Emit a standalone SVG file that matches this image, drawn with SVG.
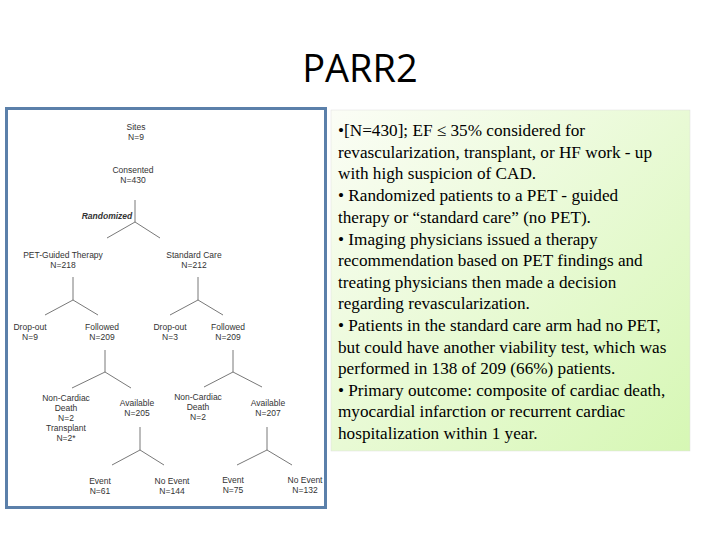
<svg xmlns="http://www.w3.org/2000/svg" width="720" height="540" viewBox="0 0 720 540">
<defs>
<linearGradient id="g" x1="0" y1="0" x2="1" y2="1"><stop offset="0" stop-color="#fbfdf6"/><stop offset="1" stop-color="#d6f7b4"/></linearGradient>
<style>
.t{font-family:"Liberation Sans",Arial,sans-serif;font-size:8.5px;fill:#333;text-anchor:middle}
.p{font-family:"Liberation Serif","Times New Roman",serif;font-size:17.2px;fill:#000}
line{stroke:#555;stroke-width:0.8}
</style>
</defs>
<rect width="720" height="540" fill="#fff"/>
<text x="360" y="82" font-family="'Open Sans','Liberation Sans',sans-serif" font-size="38" text-anchor="middle" fill="#000">PARR2</text>
<rect x="6.5" y="108.5" width="319" height="399" fill="#fff" stroke="#5b80aa" stroke-width="3"/>
<g id="connectors">
<line x1="135" y1="200" x2="135" y2="222"/><line x1="135" y1="222" x2="107" y2="238"/><line x1="135" y1="222" x2="160" y2="238"/>
<line x1="73" y1="277" x2="73" y2="300"/><line x1="73" y1="300" x2="45" y2="315"/><line x1="73" y1="300" x2="98" y2="315"/>
<line x1="198" y1="277" x2="198" y2="300"/><line x1="198" y1="300" x2="170" y2="315"/><line x1="198" y1="300" x2="223" y2="315"/>
<line x1="105" y1="350" x2="105" y2="372"/><line x1="105" y1="372" x2="72" y2="388"/><line x1="105" y1="372" x2="131" y2="388"/>
<line x1="233" y1="350" x2="233" y2="372"/><line x1="233" y1="372" x2="204" y2="387"/><line x1="233" y1="372" x2="262" y2="387"/>
<line x1="140" y1="427" x2="140" y2="450"/><line x1="140" y1="450" x2="112" y2="465"/><line x1="140" y1="450" x2="164" y2="465"/>
<line x1="267" y1="427" x2="267" y2="450"/><line x1="267" y1="450" x2="237" y2="465"/><line x1="267" y1="450" x2="292" y2="465"/>
</g>
<g id="sites"><text class="t" x="136" y="130">Sites</text><text class="t" x="136" y="140">N=9</text></g>
<g id="consented"><text class="t" x="133" y="173">Consented</text><text class="t" x="133" y="183">N=430</text></g>
<text class="t" x="107" y="219" font-style="italic" font-weight="bold" font-size="7">Randomized</text>
<g id="pet"><text class="t" x="63" y="258">PET-Guided Therapy</text><text class="t" x="63" y="268">N=218</text></g>
<g id="std"><text class="t" x="194" y="258">Standard Care</text><text class="t" x="194" y="268">N=212</text></g>
<g id="drop1"><text class="t" x="30" y="330">Drop-out</text><text class="t" x="30" y="340">N=9</text></g>
<g id="fol1"><text class="t" x="102" y="330">Followed</text><text class="t" x="102" y="340">N=209</text></g>
<g id="drop2"><text class="t" x="170" y="330">Drop-out</text><text class="t" x="170" y="340">N=3</text></g>
<g id="fol2"><text class="t" x="228" y="330">Followed</text><text class="t" x="228" y="340">N=209</text></g>
<g id="ncd1"><text class="t" x="66" y="401">Non-Cardiac</text><text class="t" x="66" y="411">Death</text><text class="t" x="66" y="421">N=2</text><text class="t" x="66" y="431">Transplant</text><text class="t" x="66" y="441">N=2*</text></g>
<g id="av1"><text class="t" x="137" y="406">Available</text><text class="t" x="137" y="416">N=205</text></g>
<g id="ncd2"><text class="t" x="198" y="400">Non-Cardiac</text><text class="t" x="198" y="410">Death</text><text class="t" x="198" y="420">N=2</text></g>
<g id="av2"><text class="t" x="268" y="406">Available</text><text class="t" x="268" y="416">N=207</text></g>
<g id="ev1"><text class="t" x="100" y="484">Event</text><text class="t" x="100" y="494">N=61</text></g>
<g id="ne1"><text class="t" x="172" y="484">No Event</text><text class="t" x="172" y="494">N=144</text></g>
<g id="ev2"><text class="t" x="233" y="483">Event</text><text class="t" x="233" y="493">N=75</text></g>
<g id="ne2"><text class="t" x="305" y="483">No Event</text><text class="t" x="305" y="493">N=132</text></g>
<g id="textbox">
<rect x="331" y="110" width="359" height="341" fill="url(#g)" stroke="#ddd" stroke-width="0.5"/>
<text class="p" x="338" y="136">•[N=430]; EF ≤ 35% considered for</text>
<text class="p" x="338" y="158">revascularization, transplant, or HF work - up</text>
<text class="p" x="338" y="179">with high suspicion of CAD.</text>
<text class="p" x="338" y="201">• Randomized patients to a PET - guided</text>
<text class="p" x="338" y="223">therapy or “standard care” (no PET).</text>
<text class="p" x="338" y="245">• Imaging physicians issued a therapy</text>
<text class="p" x="338" y="266">recommendation based on PET findings and</text>
<text class="p" x="338" y="288">treating physicians then made a decision</text>
<text class="p" x="338" y="309">regarding revascularization.</text>
<text class="p" x="338" y="331">• Patients in the standard care arm had no PET,</text>
<text class="p" x="338" y="353">but could have another viability test, which was</text>
<text class="p" x="338" y="374">performed in 138 of 209 (66%) patients.</text>
<text class="p" x="338" y="396">• Primary outcome: composite of cardiac death,</text>
<text class="p" x="338" y="417">myocardial infarction or recurrent cardiac</text>
<text class="p" x="338" y="439">hospitalization within 1 year.</text>
</g>
</svg>
